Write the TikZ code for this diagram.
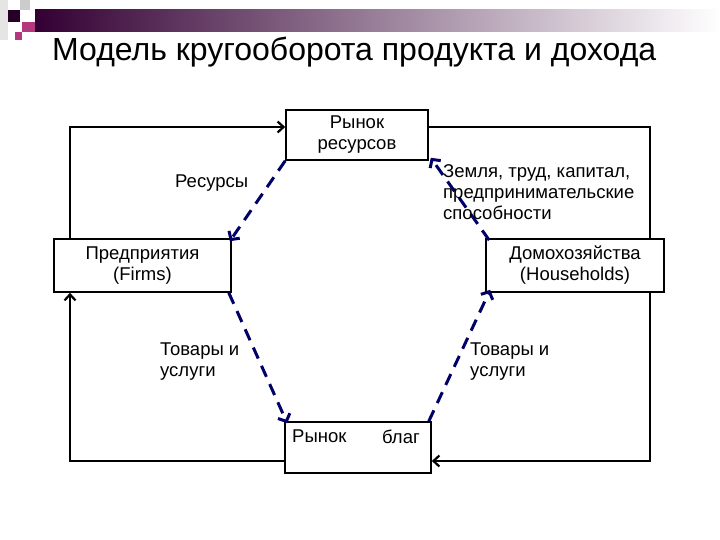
\documentclass[tikz,border=0pt]{standalone}
\usepackage{fontspec}
\setmainfont{Liberation Sans}
\usetikzlibrary{arrows.meta}
\begin{document}
\begin{tikzpicture}[x=1pt,y=-1pt,
  box/.style={draw,line width=1.6pt,minimum width=#1,inner sep=0pt},
  loop/.style={line width=2.2pt,-{Straight Barb[length=6pt,width=11pt]}},
  dasharrow/.style={draw=blue!40!black,line width=3pt,dash pattern=on 12pt off 8pt,-{Straight Barb[length=6pt,width=13pt]}},
  lab/.style={font=\fontsize{18.5}{21}\selectfont,align=left,inner sep=0pt}]
\useasboundingbox (0,0) rectangle (720,540);
% decoration
\shade[left color=violet!40!black,right color=white] (35,10) rectangle (720,32);
\fill[gray!20] (0,0) rectangle (8,40);
\fill[violet!30!black] (8,10) rectangle (20,22);
\fill[magenta!70!black] (22,22) rectangle (35,32);
\fill[magenta!70!black] (15,32) rectangle (22,40);
\fill[gray!40] (20,0) rectangle (30,10);
\node[font=\fontsize{32}{36}\selectfont,anchor=west,inner sep=0pt] (title) at (52,52) {Модель кругооборота продукта и дохода};
% boxes
\node[box=142pt,minimum height=50pt,align=center,lab,align=center] (rr) at (357,135) {Рынок\\ресурсов};
\node[box=177pt,minimum height=53pt,lab,align=center] (f) at (142.5,265.5) {Предприятия\\(Firms)};
\node[box=178pt,minimum height=53pt,lab,align=center] (h) at (575,265.5) {Домохозяйства\\(Households)};
\node[box=146pt,minimum height=51pt] (g) at (358,447.5) {};
\node[lab,anchor=north west] (g1) at (292,430) {Рынок};
\node[lab,anchor=north west] (g2) at (382,430) {благ};
% loops
\coordinate (c1) at (70,127);
\coordinate (c2) at (650,127);
\coordinate (c3) at (650,461);
\coordinate (c4) at (70,461);
\draw[loop] (f.north -| c1) -- (c1) -- (rr.west |- c1);
\draw[line width=2.2pt] (rr.east |- c2) -- (c2) -- (h.north -| c2);
\draw[loop] (h.south -| c3) -- (c3) -- (g.east |- c3);
\draw[loop] (g.west |- c4) -- (c4) -- (f.south -| c4);
% dashed
\draw[dasharrow] (rr.south west) -- ([xshift=-2pt,yshift=-3pt]f.north east);
\draw[dasharrow] ([xshift=4pt,yshift=-2pt]h.north west) -- ([xshift=2pt,yshift=3pt]rr.south east);
\draw[dasharrow] ([xshift=-3pt]f.south east) -- ([xshift=3pt,yshift=-2pt]g.north west);
\draw[dasharrow] ([xshift=-3pt]g.north east) -- ([xshift=5pt,yshift=3pt]h.south west);
% labels
\node[lab,anchor=west] (l1) at (175,183) {Ресурсы};
\node[lab,anchor=north west] (l2) at (443,164) {Земля, труд, капитал,\\предпринимательские\\способности};
\node[lab,anchor=north west] (l3) at (160,343) {Товары и\\услуги};
\node[lab,anchor=north west] (l4) at (470,343) {Товары и\\услуги};
\end{tikzpicture}
\end{document}
